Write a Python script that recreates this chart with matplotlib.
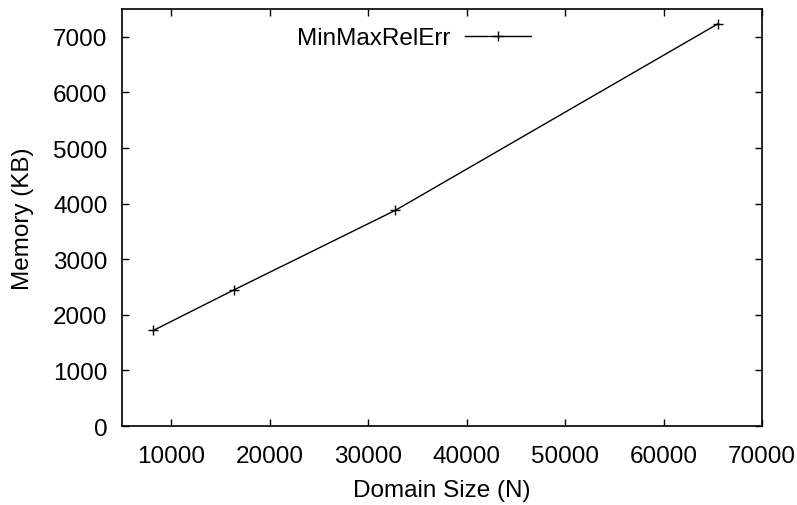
import matplotlib
matplotlib.use('Agg')
import matplotlib.pyplot as plt

# data
domain_size = [8192, 16384, 32768, 65536]
memory_kb = [1720, 2450, 3880, 7235]
series_label = 'MinMaxRelErr'

x_ticks = [10000, 20000, 30000, 40000, 50000, 60000, 70000]
y_ticks = [0, 1000, 2000, 3000, 4000, 5000, 6000, 7000]

FS = 17.5

plt.rcParams['font.family'] = ['Liberation Sans', 'DejaVu Sans']
plt.rcParams['font.size'] = FS

fig = plt.figure(figsize=(7.97, 5.06), dpi=100)
ax = fig.add_axes([0.1531, 0.1561, 0.8030, 0.8241])

ax.plot(domain_size, memory_kb, color='black', linewidth=1.0,
        marker='+', markersize=7, markeredgewidth=1.0, label=series_label)

ax.set_xlim(5000, 70000)
ax.set_ylim(0, 7500)
ax.set_xticks(x_ticks)
ax.set_yticks(y_ticks)
ax.tick_params(direction='in', length=5, width=1, top=True, right=True,
               labelsize=FS)
ax.tick_params(axis='y', pad=10.5)
ax.tick_params(axis='x', pad=13.5)
for s in ax.spines.values():
    s.set_linewidth(1.2)

ax.set_xlabel('Domain Size (N)', fontsize=FS, labelpad=8.5)
ax.set_ylabel('Memory (KB)', fontsize=FS, labelpad=13.5)

leg = ax.legend(loc='center', bbox_to_anchor=(0.4555, 0.93), frameon=False,
                markerfirst=False, handlelength=2.7, handletextpad=0.62,
                fontsize=FS, borderaxespad=0.0)

fig.savefig('out.png', dpi=100)
